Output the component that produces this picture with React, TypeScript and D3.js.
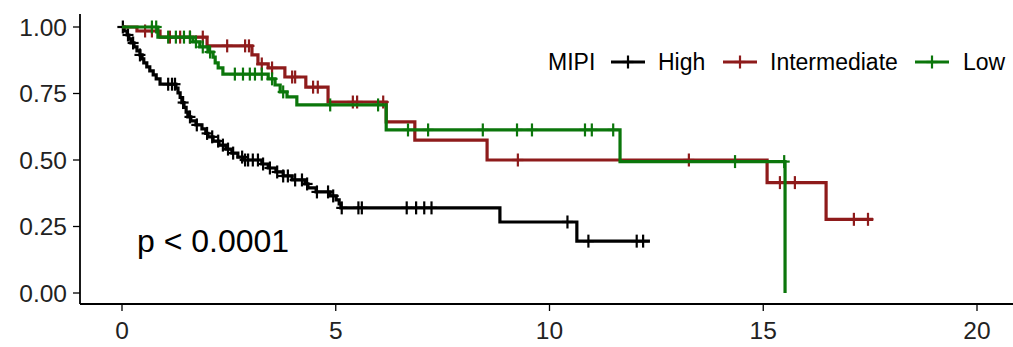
import React from "react";
import * as d3 from "d3";

// ---- data ----
const groups = ["High", "Intermediate", "Low"];
const legendTitle = "MIPI";
const pLabel = "p < 0.0001";
const xTicks = [0, 5, 10, 15, 20];
const yTicks = [0, 0.25, 0.5, 0.75, 1.0];
const yTickLabels = ["0.00", "0.25", "0.50", "0.75", "1.00"];

// event times and survival after each event
const highTimes = [0, 0.05, 0.12, 0.16, 0.21, 0.28, 0.35, 0.42, 0.47, 0.51, 0.58, 0.65, 0.73, 0.8, 0.89, 1.26, 1.31, 1.36, 1.4, 1.45, 1.5, 1.54, 1.61, 1.73, 1.87, 1.96, 2.01, 2.13, 2.27, 2.43, 2.57, 2.71, 2.85, 3.27, 3.42, 3.6, 3.77, 3.98, 4.28, 4.35, 4.54, 4.87, 5.01, 5.08, 5.12, 8.84, 10.64];
const highSurv = [1, 0.985, 0.97, 0.955, 0.94, 0.925, 0.91, 0.895, 0.88, 0.865, 0.85, 0.835, 0.82, 0.805, 0.785, 0.77, 0.752, 0.735, 0.716, 0.698, 0.68, 0.662, 0.647, 0.632, 0.617, 0.6, 0.587, 0.571, 0.556, 0.541, 0.526, 0.511, 0.5, 0.485, 0.47, 0.455, 0.44, 0.425, 0.41, 0.395, 0.38, 0.365, 0.35, 0.335, 0.32, 0.267, 0.195];
const highEnd = 12.35;
const highCensor = [0.02, 0.14, 0.26, 0.42, 1.08, 1.17, 1.24, 1.43, 1.59, 1.75, 1.99, 2.11, 2.25, 2.36, 2.48, 2.6, 2.81, 2.88, 2.95, 3.06, 3.18, 3.3, 3.46, 3.63, 3.77, 3.88, 4.05, 4.21, 4.33, 4.56, 4.82, 4.94, 5.14, 5.53, 5.61, 6.66, 6.88, 7.07, 7.24, 10.42, 10.91, 12.04, 12.19];

const interTimes = [0, 0.35, 0.89, 1.99, 3.04, 3.18, 3.42, 3.81, 4.3, 4.82, 6.18, 6.85, 8.54, 15.09, 16.47];
const interSurv = [1, 0.985, 0.962, 0.929, 0.895, 0.861, 0.846, 0.812, 0.774, 0.718, 0.643, 0.575, 0.5, 0.415, 0.277];
const interEnd = 17.57;
const interCensor = [0.54, 0.7, 1.12, 1.36, 1.59, 1.89, 2.46, 2.88, 2.97, 3.27, 3.51, 3.98, 4.05, 4.47, 4.58, 5.4, 5.5, 6.11, 9.26, 13.26, 15.39, 15.74, 17.12, 17.45];

const lowTimes = [0, 0.84, 1.66, 1.82, 2.01, 2.13, 2.18, 2.25, 2.36, 3.42, 3.58, 3.7, 3.86, 4.09, 6.18, 11.65, 15.51];
const lowSurv = [1, 0.962, 0.944, 0.925, 0.906, 0.887, 0.865, 0.846, 0.823, 0.805, 0.782, 0.756, 0.737, 0.707, 0.613, 0.494, 0];
const lowEnd = 15.51;
const lowCensor = [0.7, 0.8, 1.08, 1.26, 1.45, 1.59, 1.73, 1.89, 2.06, 2.64, 2.83, 2.99, 3.11, 3.27, 3.51, 3.77, 4.87, 5.99, 6.69, 7.16, 8.44, 9.24, 9.59, 10.83, 10.99, 11.49, 14.34, 15.49];

const colors = ["#000000", "#8E1B1B", "#0B760B"];

const series = [
  { name: groups[0], times: highTimes, surv: highSurv, end: highEnd, censor: highCensor, color: colors[0] },
  { name: groups[1], times: interTimes, surv: interSurv, end: interEnd, censor: interCensor, color: colors[1] },
  { name: groups[2], times: lowTimes, surv: lowSurv, end: lowEnd, censor: lowCensor, color: colors[2] },
];

const W = 1013;
const H = 347;
const panel = { left: 80, right: 1013, top: 14, bottom: 304 };
const x = d3.scaleLinear().domain([0, 20]).range([122, 977]);
const y = d3.scaleLinear().domain([0, 1]).range([293, 27]);
const FONT = "'Liberation Sans', Arial, sans-serif";

function survAt(times: number[], surv: number[], t: number) {
  let s = surv[0];
  for (let i = 0; i < times.length; i++) if (times[i] <= t) s = surv[i];
  return s;
}

const line = d3
  .line<[number, number]>()
  .x((d) => x(d[0]))
  .y((d) => y(d[1]))
  .curve(d3.curveStepAfter);

function Plus({ cx, cy, color }: { cx: number; cy: number; color: string }) {
  return (
    <g stroke={color} strokeWidth={2.2}>
      <line x1={cx} x2={cx} y1={cy - 6.5} y2={cy + 6.5} />
      <line x1={cx - 5.5} x2={cx + 5.5} y1={cy} y2={cy} />
    </g>
  );
}

export default function App() {
  const legendItems = [
    { key: 611, text: 658 },
    { key: 723, text: 770 },
    { key: 915, text: 963 },
  ];
  const legendY = 62;
  return (
    <svg width={W} height={H} style={{ position: "fixed", left: 0, top: 0, background: "#fff" }} fontFamily={FONT}>
      <rect width={W} height={H} fill="#fff" />
      {series.map((s) => {
        const pts: [number, number][] = s.times.map((t, i) => [t, s.surv[i]] as [number, number]);
        pts.push([s.end, s.surv[s.surv.length - 1]]);
        return (
          <g key={s.name}>
            <path d={line(pts) || ""} fill="none" stroke={s.color} strokeWidth={3.2} />
            {s.censor.map((t, i) => (
              <Plus key={i} cx={x(t)} cy={y(survAt(s.times, s.surv, t))} color={s.color} />
            ))}
          </g>
        );
      })}
      {/* axes */}
      <line x1={panel.left} x2={panel.left} y1={panel.top} y2={panel.bottom} stroke="#000" strokeWidth={1.8} />
      <line x1={panel.left} x2={panel.right} y1={panel.bottom} y2={panel.bottom} stroke="#000" strokeWidth={1.8} />
      {yTicks.map((v, i) => (
        <g key={v}>
          <line x1={panel.left - 7} x2={panel.left} y1={y(v)} y2={y(v)} stroke="#000" strokeWidth={1.3} />
          <text x={67} y={y(v)} dy="0.36em" textAnchor="end" fontSize={24.5} fill="#222">
            {yTickLabels[i]}
          </text>
        </g>
      ))}
      {xTicks.map((v) => (
        <g key={v}>
          <line x1={x(v)} x2={x(v)} y1={panel.bottom} y2={panel.bottom + 7} stroke="#000" strokeWidth={1.3} />
          <text x={x(v)} y={339} textAnchor="middle" fontSize={24.5} fill="#222">
            {v}
          </text>
        </g>
      ))}
      <text x={137} y={252} fontSize={32} fill="#000">
        {pLabel}
      </text>
      {/* legend */}
      <text x={548} y={legendY} dy="0.36em" fontSize={23} fill="#000">
        {legendTitle}
      </text>
      {series.map((s, i) => (
        <g key={s.name}>
          <line x1={legendItems[i].key} x2={legendItems[i].key + 34} y1={legendY} y2={legendY} stroke={s.color} strokeWidth={3.2} />
          <Plus cx={legendItems[i].key + 17} cy={legendY} color={s.color} />
          <text x={legendItems[i].text} y={legendY} dy="0.36em" fontSize={23} fill="#000">
            {s.name}
          </text>
        </g>
      ))}
    </svg>
  );
}
